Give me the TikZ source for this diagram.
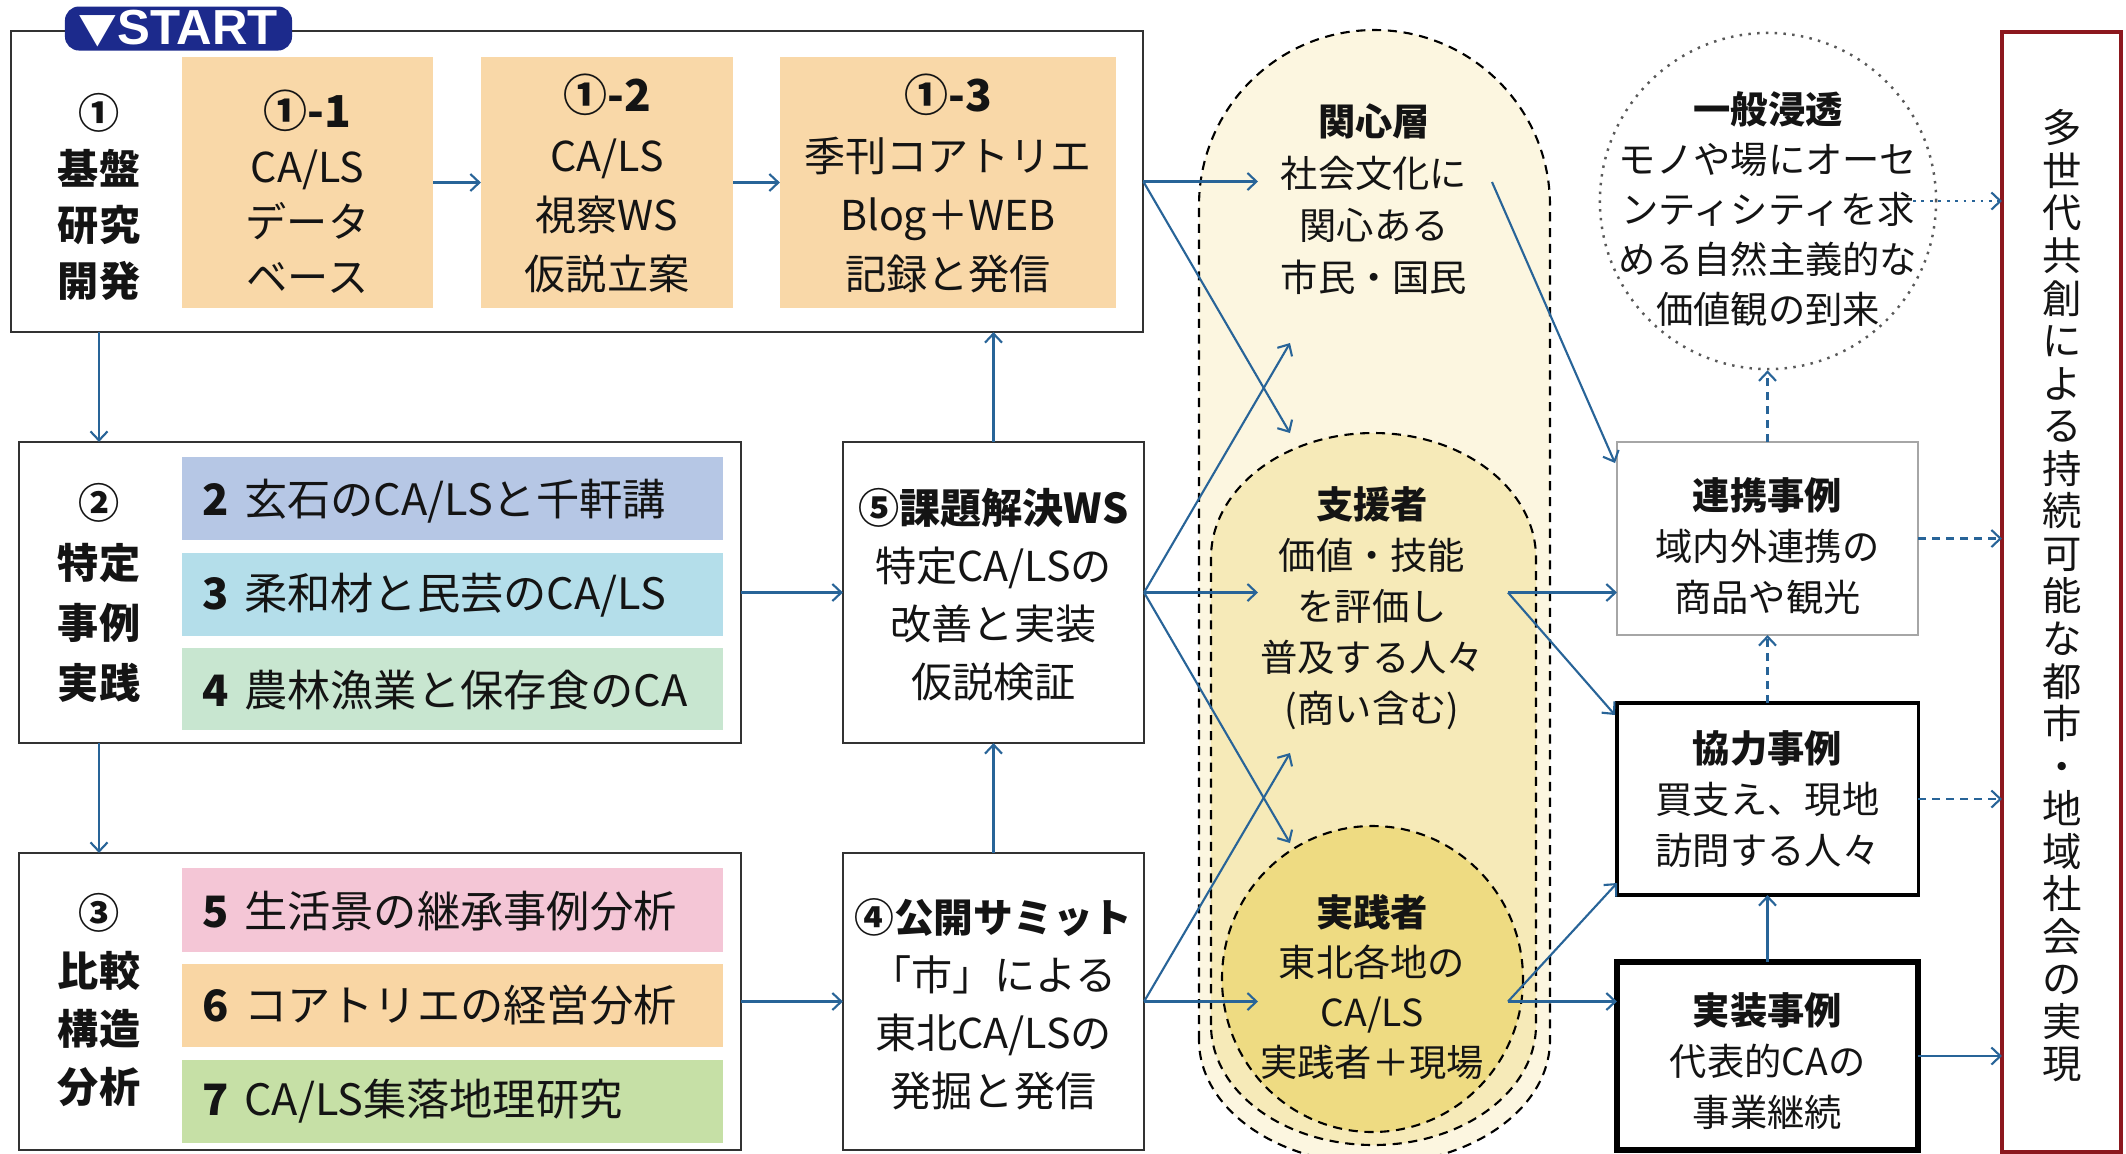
\documentclass[tikz,border=0pt]{standalone}
\usepackage{fontspec}
\setmainfont{Noto Sans CJK JP}
\newfontfamily\startfont{Liberation Sans}
\usetikzlibrary{arrows.meta,calc}
\definecolor{arrowblue}{RGB}{40,100,152}
\definecolor{peach}{RGB}{249,216,168}
\definecolor{barblue}{RGB}{182,199,229}
\definecolor{barcyan}{RGB}{180,222,234}
\definecolor{barmint}{RGB}{200,230,208}
\definecolor{barpink}{RGB}{244,198,214}
\definecolor{barorange}{RGB}{249,214,164}
\definecolor{bargreen}{RGB}{198,224,166}
\definecolor{outerfill}{RGB}{252,246,224}
\definecolor{midfill}{RGB}{246,234,184}
\definecolor{innerfill}{RGB}{238,219,130}
\definecolor{navy}{RGB}{28,42,140}
\definecolor{darkred}{RGB}{140,24,30}
\definecolor{boxline}{RGB}{50,50,50}
\definecolor{txt}{RGB}{20,20,20}
\begin{document}
\begin{tikzpicture}[x=0.01cm,y=-0.01cm,
  every node/.style={text=txt},
  rbox/.style={rectangle,draw=boxline,line width=0.6pt,inner sep=0pt,outer sep=0pt},
  fbox/.style={rectangle,inner sep=0pt,outer sep=0pt,draw=none},
  lt/.style={align=center,inner sep=0pt,font=\fontsize{11.7}{#1}\selectfont\bfseries},
  mt/.style={align=center,inner sep=0pt,font=\fontsize{11.7}{#1}\selectfont},
  st/.style={align=center,inner sep=0pt,font=\fontsize{10.6}{#1}\selectfont},
  bart/.style={anchor=west,inner sep=0pt,font=\fontsize{12.3}{14}\selectfont},
  arr/.style={draw=arrowblue,line width=0.6pt,-{Straight Barb[length=0.9mm,width=1.7mm]}},
  dasharr/.style={arr,dash pattern=on 2.2pt off 1.8pt},
  dotarr/.style={arr,dash pattern=on 0.8pt off 1.6pt},
  ovl/.style={draw=black,line width=0.6pt,dash pattern=on 2.6pt off 1.9pt}
]
\useasboundingbox (0,0) rectangle (2126,1153);
\fill[white] (0,0) rectangle (2126,1153);

% ---------- left column boxes ----------
\node[rbox,minimum width=11.32cm,minimum height=3.01cm] (b1) at (577,181.5) {};
\node[fbox,fill=peach,minimum width=2.51cm,minimum height=2.51cm] (o11) at (307.5,182.5) {};
\node[fbox,fill=peach,minimum width=2.52cm,minimum height=2.51cm] (o12) at (607,182.5) {};
\node[fbox,fill=peach,minimum width=3.36cm,minimum height=2.51cm] (o13) at (948,182.5) {};

\node[rbox,minimum width=7.22cm,minimum height=3.01cm] (b2) at (380,592.5) {};
\node[fbox,fill=barblue,minimum width=5.41cm,minimum height=0.83cm] (bar2) at (452.5,498.5) {};
\node[fbox,fill=barcyan,minimum width=5.41cm,minimum height=0.83cm] (bar3) at (452.5,594.5) {};
\node[fbox,fill=barmint,minimum width=5.41cm,minimum height=0.82cm] (bar4) at (452.5,689) {};

\node[rbox,minimum width=7.22cm,minimum height=2.97cm] (b3) at (380,1001.5) {};
\node[fbox,fill=barpink,minimum width=5.41cm,minimum height=0.84cm] (bar5) at (452.5,910) {};
\node[fbox,fill=barorange,minimum width=5.41cm,minimum height=0.83cm] (bar6) at (452.5,1005.5) {};
\node[fbox,fill=bargreen,minimum width=5.41cm,minimum height=0.83cm] (bar7) at (452.5,1101.5) {};

\node[rbox,minimum width=3.01cm,minimum height=3.01cm] (b5) at (993.5,592.5) {};
\node[rbox,minimum width=3.01cm,minimum height=2.97cm] (b4) at (993.5,1001.5) {};

% START badge
\node[fbox,fill=navy,rounded corners=4pt,minimum width=2.27cm,minimum height=0.44cm] (start) at (178.5,28.5)
  {\color{white}{\fontsize{11}{11}\selectfont\bfseries ▼}{\startfont\fontsize{14}{14}\selectfont\bfseries START}};

% left labels
\node[lt=15.9] (l1) at (99,197) {①\\基盤\\研究\\開発};
\node[lt=17] (l2) at (99,593) {②\\特定\\事例\\実践};
\node[lt=16.5] (l3) at (99,1000) {③\\比較\\構造\\分析};

% box texts
\node[mt=15.6] (t11) at (307.5,192) {{\fontsize{12.5}{12.5}\selectfont\bfseries ①-1}\\CA/LS\\データ\\ベース};
\node[mt=16.8] (t12) at (607,183.5) {{\fontsize{12.5}{12.5}\selectfont\bfseries ①-2}\\CA/LS\\視察WS\\仮説立案};
\node[mt=16.8] (t13) at (948,183.5) {{\fontsize{12.5}{12.5}\selectfont\bfseries ①-3}\\季刊コアトリエ\\Blog＋WEB\\記録と発信};

\node[bart] (tb2) at (202,501) {\textbf{2}\hspace{0.35em}玄石のCA/LSと千軒講};
\node[bart] (tb3) at (202,595) {\textbf{3}\hspace{0.35em}柔和材と民芸のCA/LS};
\node[bart] (tb4) at (202,690) {\textbf{4}\hspace{0.35em}農林漁業と保存食のCA};
\node[bart] (tb5) at (202,911) {\textbf{5}\hspace{0.35em}生活景の継承事例分析};
\node[bart] (tb6) at (202,1005) {\textbf{6}\hspace{0.35em}コアトリエの経営分析};
\node[bart] (tb7) at (202,1101) {\textbf{7}\hspace{0.35em}CA/LS集落地理研究};

\node[mt=16.5] (t5) at (993.5,595) {\textbf{⑤課題解決WS}\\特定CA/LSの\\改善と実装\\仮説検証};
\node[mt=16.5] (t4) at (993.5,1004) {{\fontsize{11.3}{11.3}\selectfont\bfseries ④公開サミット}\\「市」による\\東北CA/LSの\\発掘と発信};

% ---------- nested ovals ----------
\path[ovl,fill=outerfill] (1199,1040) -- (1199,205.5)
  arc[start angle=180,end angle=360,x radius=175.5,y radius=175.5]
  -- (1550,1040)
  arc[start angle=0,end angle=180,x radius=175.5,y radius=124] -- cycle;
\path[ovl,fill=midfill] (1211,1025) -- (1211,558)
  arc[start angle=180,end angle=360,x radius=162.5,y radius=125]
  -- (1536,1025)
  arc[start angle=0,end angle=180,x radius=162.5,y radius=120] -- cycle;
\path[ovl,fill=innerfill] (1372.5,979) ellipse[x radius=150.5,y radius=153];

\node[st=14.8] (kan) at (1374,199) {\textbf{関心層}\\社会文化に\\関心ある\\市民・国民};
\node[st=14.5] (shien) at (1372,608) {\textbf{支援者}\\価値・技能\\を評価し\\普及する人々\\(商い含む)};
\node[st=14.2] (jissen) at (1372,987) {\textbf{実践者}\\東北各地の\\CA/LS\\実践者＋現場};

% ---------- right column ----------
\node[circle,draw=black!65,line width=0.7pt,dash pattern=on 0.7pt off 1.8pt,minimum size=3.36cm,inner sep=0pt] (gen) at (1768,201) {};
\node[st=14.2] (gent) at (1768,209) {\textbf{一般浸透}\\モノや場にオーセ\\ンティシティを求\\める自然主義的な\\価値観の到来};

\node[rbox,draw=black!35,line width=0.5pt,minimum width=3.01cm,minimum height=1.93cm] (r1) at (1767.5,538.5) {};
\node[rbox,draw=black,line width=0.9pt,minimum width=3.01cm,minimum height=1.92cm] (r2) at (1767.5,799) {};
\node[rbox,draw=black,line width=1.5pt,minimum width=3.01cm,minimum height=1.88cm] (r3) at (1767.5,1056) {};
\node[st=14.5] (r1t) at (1767.5,546) {\textbf{連携事例}\\域内外連携の\\商品や観光};
\node[st=14.5] (r2t) at (1767.5,799) {\textbf{協力事例}\\買支え、現地\\訪問する人々};
\node[st=14.5] (r3t) at (1767.5,1061) {\textbf{実装事例}\\代表的CAの\\事業継続};

\node[rbox,draw=darkred,line width=1.1pt,minimum width=1.19cm,minimum height=11.2cm] (red) at (2061.5,592) {};
\node[align=center,inner sep=0pt,font=\fontsize{11.2}{12.1}\selectfont] (redt) at (2062,596)
  {多\\世\\代\\共\\創\\に\\よ\\る\\持\\続\\可\\能\\な\\都\\市\\・\\地\\域\\社\\会\\の\\実\\現};

% ---------- connector end points ----------
\coordinate (kanA) at (1258,181.5);
\coordinate (shienT) at (1290,433);
\coordinate (kanB) at (1290,343);
\coordinate (shienA) at (1258,592.5);
\coordinate (jissenT) at (1290,843);
\coordinate (shienB) at (1290,753);
\coordinate (jissenA) at (1258,1001.5);
\coordinate (kanR) at (1492,182);
\coordinate (shienR) at (1508,592.5);
\coordinate (jissenR) at (1508,1001.5);
\coordinate (r1a) at (1615,463);
\coordinate (r2a) at (1615,715);
\coordinate (r2b) at (1617,883);
\coordinate (genR) at (1913,201);

% ---------- connectors ----------
\draw[arr] (o11.east) -- (o12.west);
\draw[arr] (o12.east) -- (o13.west);
\draw[arr] (l1 |- b1.south) -- (l1 |- b2.north);
\draw[arr] (l2 |- b2.south) -- (l2 |- b3.north);
\draw[arr] (b2.east) -- (b5.west);
\draw[arr] (b3.east) -- (b4.west);
\draw[arr] (b4.north) -- (b5.south);
\draw[arr] (b5.north) -- (b5.north |- b1.south);

\draw[arr] (b1.east) -- (kanA);
\draw[arr] (b1.east) -- (shienT);
\draw[arr] (b5.east) -- (kanB);
\draw[arr] (b5.east) -- (shienA);
\draw[arr] (b5.east) -- (jissenT);
\draw[arr] (b4.east) -- (shienB);
\draw[arr] (b4.east) -- (jissenA);

\draw[arr] (kanR) -- (r1a);
\draw[arr] (shienR) -- (r1.west |- shienR);
\draw[arr] (shienR) -- (r2a);
\draw[arr] (jissenR) -- (r2b);
\draw[arr] (jissenR) -- (r3.west |- jissenR);

\draw[dotarr] (genR) -- (genR -| red.west);
\draw[dasharr] (r1.east) -- (r1.east -| red.west);
\draw[dasharr] (r2.east) -- (r2.east -| red.west);
\draw[arr] (r3.east) -- (r3.east -| red.west);
\draw[arr] (r3.north) -- (r2.south);
\draw[dasharr] (r2.north) -- (r1.south);
\draw[dasharr] (r1.north) -- (r1.north |- gen.south);
\end{tikzpicture}
\end{document}
